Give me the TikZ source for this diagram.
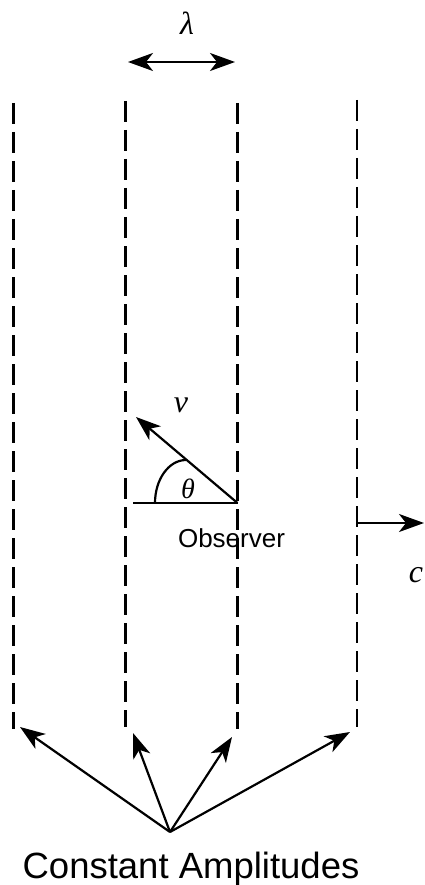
\documentclass[tikz,border=0pt]{standalone}
\usepackage{fontspec}
\setmainfont{Liberation Serif}
\newfontfamily\labelsans{Liberation Sans}
\usetikzlibrary{arrows.meta}
\tikzset{
  tipA/.tip={Stealth[length=25pt,width=18pt,inset=7pt]},
}
\begin{document}
\begin{tikzpicture}[x=1pt,y=-1pt,
  wave/.style={line width=2.2pt, dash pattern=on 21pt off 8pt},
  plain/.style={line width=2.2pt},
  vec/.style={line width=2.2pt,-tipA},
  dvec/.style={line width=2.2pt,tipA-tipA},
  sym/.style={inner sep=0pt, font=\fontsize{32}{34}\selectfont\itshape},
  sanslabel/.style={inner sep=0pt, anchor=base}]
\useasboundingbox (0,0) rectangle (425,885);

% wave fronts
\coordinate (w1t) at (13.5,103);  \coordinate (w1b) at (13.5,729);
\coordinate (w2t) at (125.5,101); \coordinate (w2b) at (125.5,727);
\coordinate (w3t) at (237.5,103); \coordinate (w3b) at (237.5,729);
\coordinate (w4t) at (357,100);   \coordinate (w4b) at (357,727);
\draw[wave] (w1t) -- (w1b);
\draw[wave] (w2t) -- (w2b);
\draw[wave] (w3t) -- (w3b);
\draw[wave] (w4t) -- (w4b);

% wavelength
\coordinate (l1) at (128,62);
\coordinate (l2) at (235,62);
\draw[dvec] (l1) -- (l2);
\node[sym] (lam) at (187,23) {λ};

% observer
\coordinate (obs) at (237.5,503);
\coordinate (hl) at (133,503);
\coordinate (vt) at (136,417);
\draw[plain] (obs) -- (hl);
\draw[vec] (obs) -- (vt);
\coordinate (arcstart) at (155,503);
\draw[plain] (arcstart) arc[start angle=180, end angle=90, x radius=31pt, y radius=43pt];
\node[sym] (vlab) at (181,405) {v};
\node[sym, font=\fontsize{28}{30}\selectfont\itshape] (thlab) at (188,489) {θ};
\node[sanslabel, font=\labelsans\fontsize{26}{28}\selectfont] (obslab) at (231.5,547) {Observer};

% propagation
\coordinate (cs) at (357,523);
\coordinate (ce) at (424,523);
\draw[vec] (cs) -- (ce);
\node[sym] (clab) at (416,575) {c};

% constant amplitudes
\coordinate (src) at (170,832);
\coordinate (a1) at (20,727);
\coordinate (a2) at (133,733);
\coordinate (a3) at (232,737);
\coordinate (a4) at (350,732);
\draw[vec] (src) -- (a1);
\draw[vec] (src) -- (a2);
\draw[vec] (src) -- (a3);
\draw[vec] (src) -- (a4);
\node[sanslabel, font=\labelsans\fontsize{36.5}{40}\selectfont] (const) at (191,878) {Constant Amplitudes};
\end{tikzpicture}
\end{document}
